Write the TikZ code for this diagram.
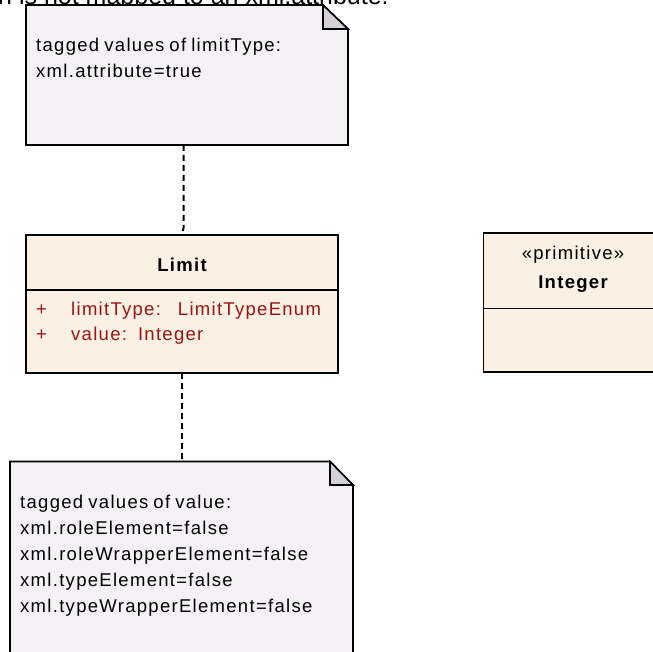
\documentclass[tikz,border=0pt]{standalone}
\usepackage{fontspec}
\setmainfont{Liberation Sans}
\newfontfamily\uml[LetterSpace=7,WordSpace=0.8]{Liberation Sans}
\usetikzlibrary{calc}
\definecolor{notefill}{HTML}{F5F2F6}
\definecolor{foldfill}{HTML}{D4D1D8}
\definecolor{classfill}{HTML}{FAF0E3}
\definecolor{attrcol}{HTML}{991515}
\tikzset{
  outline/.style={draw=black, line width=1.6pt, line join=miter},
  notebody/.style={inner sep=0pt, outer sep=0pt, anchor=north west},
  classbox/.style={outline, fill=classfill, inner sep=0pt, outer sep=0pt, anchor=north west},
  notetext/.style={inner sep=0pt, anchor=base west, align=left, font=\uml\fontsize{18.5}{26}\selectfont},
  umltext/.style={inner sep=0pt, font=\uml\fontsize{18.5}{26}\selectfont},
  boldtext/.style={inner sep=0pt, anchor=base, font=\uml\bfseries\fontsize{18.5}{26}\selectfont},
  attrtext/.style={umltext, anchor=base west, text=attrcol},
  conn/.style={draw=black, line width=2pt, dash pattern=on 6pt off 4pt},
}
\begin{document}
\begin{tikzpicture}[x=1pt,y=-1pt]
\useasboundingbox (0,0) rectangle (653,652);
\clip (0,0) rectangle (653,652);

% cut-off heading
\node[inner sep=0pt, anchor=base west, font=\fontsize{25}{25}\selectfont] (head) at (-2,4.3) {n is not mapped to an xml:attribute.};

% top note
\node[notebody, minimum width=322pt, minimum height=140pt] (n1) at (26,5) {};
\draw[outline, fill=notefill] (n1.north west) -- ($(n1.north east)+(-25,0)$) -- ($(n1.north east)+(0,24)$) -- (n1.south east) -- (n1.south west) -- cycle;
\draw[outline, fill=foldfill] ($(n1.north east)+(-25,0)$) -- ($(n1.north east)+(-25,24)$) -- ($(n1.north east)+(0,24)$) -- cycle;
\node[notetext] (t1) at (36,77.5) {tagged values of limitType:\\xml.attribute=true};

% Limit class
\node[classbox, minimum width=312pt, minimum height=138pt] (lim) at (26,235) {};
\draw[outline] ($(lim.north west)+(0,55)$) -- ($(lim.north east)+(0,55)$);
\node[boldtext] (limname) at (182,271.5) {Limit};
\node[attrtext] (p1) at (36,315) {+};
\node[attrtext] (a1) at (71,315) {limitType:\hspace{17pt}LimitTypeEnum};
\node[attrtext] (p2) at (36,340) {+};
\node[attrtext] (a2) at (71,340) {value:\hspace{11pt}Integer};

% Integer class
\node[classbox, minimum width=180pt, minimum height=139pt] (int) at (483.5,233) {};
\draw[outline] ($(int.north west)+(0,75.5)$) -- ($(int.north east)+(0,75.5)$);
\node[umltext, anchor=base] (st) at (573,260) {«primitive»};
\node[boldtext] (intname) at (573,288) {Integer};

% bottom note
\node[notebody, minimum width=343pt, minimum height=250pt] (n2) at (10,461.5) {};
\draw[outline, fill=notefill] (n2.north west) -- ($(n2.north east)+(-23,0)$) -- ($(n2.north east)+(0,23.5)$) -- (n2.south east) -- (n2.south west) -- cycle;
\draw[outline, fill=foldfill] ($(n2.north east)+(-23,0)$) -- ($(n2.north east)+(-23,23.5)$) -- ($(n2.north east)+(0,23.5)$) -- cycle;
\node[notetext] (t2) at (20,612) {tagged values of value:\\xml.roleElement=false\\xml.roleWrapperElement=false\\xml.typeElement=false\\xml.typeWrapperElement=false};

% connectors
\coordinate (k1) at ($(n1.south west)+(157.5,83)$);
\draw[conn] ($(n1.south west)+(157.5,0)$) -- (k1) -- ($(lim.north west)+(156,0)$);
\draw[conn] ($(lim.south west)+(156,0)$) -- ($(n2.north west)+(172,0)$);
\end{tikzpicture}
\end{document}
